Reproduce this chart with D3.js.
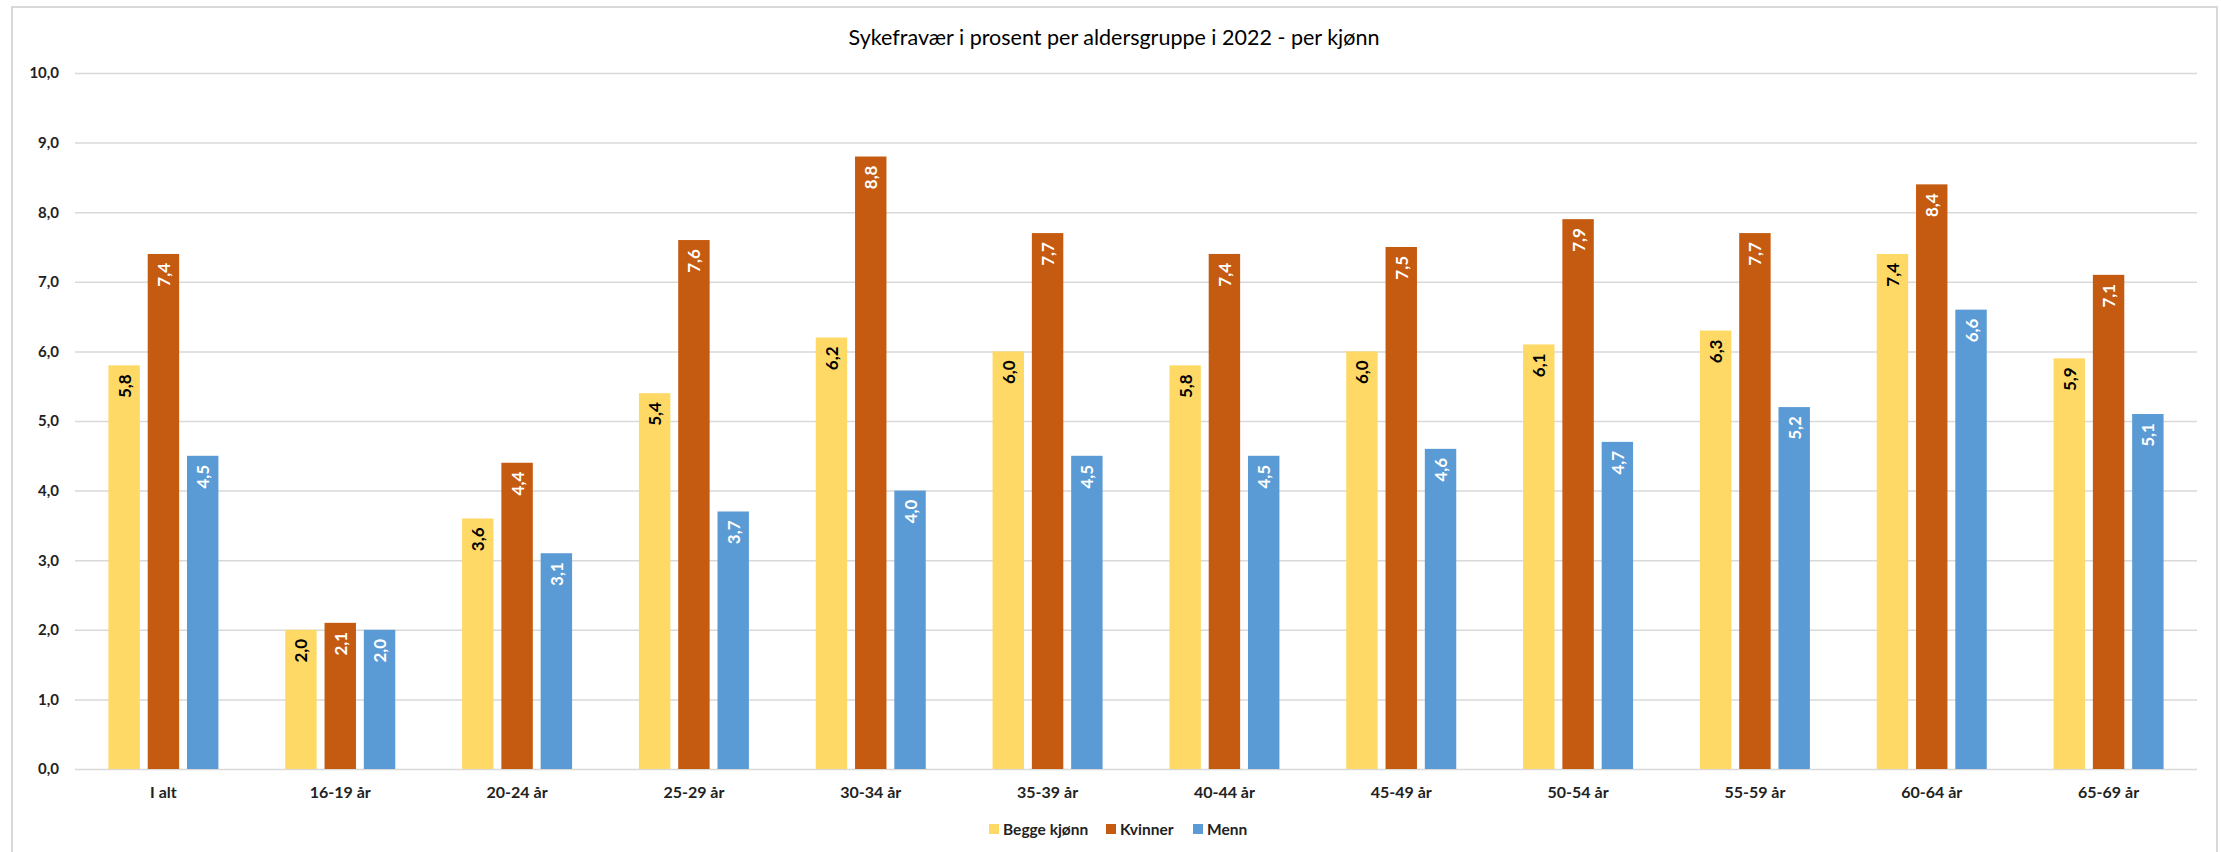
<!DOCTYPE html>
<html>
<head>
<meta charset="utf-8">
<script src="https://cdn.jsdelivr.net/npm/d3@7"></script>
<style>
	body { margin: 0; background: #fff; }
	svg { display: block; font-family: Lato, "Open Sans", sans-serif; }
</style>
</head>
<body>
<div class="chart"></div>
<script>
var categories = ['I alt', '16-19 år', '20-24 år', '25-29 år', '30-34 år', '35-39 år', '40-44 år', '45-49 år', '50-54 år', '55-59 år', '60-64 år', '65-69 år'];
var seriesNames = ['Begge kjønn', 'Kvinner', 'Menn'];
var beggeKjonn = [5.8, 2.0, 3.6, 5.4, 6.2, 6.0, 5.8, 6.0, 6.1, 6.3, 7.4, 5.9];
var kvinner = [7.4, 2.1, 4.4, 7.6, 8.8, 7.7, 7.4, 7.5, 7.9, 7.7, 8.4, 7.1];
var menn = [4.5, 2.0, 3.1, 3.7, 4.0, 4.5, 4.5, 4.6, 4.7, 5.2, 6.6, 5.1];
var yTicks = [0, 1, 2, 3, 4, 5, 6, 7, 8, 9, 10];
var title = 'Sykefravær i prosent per aldersgruppe i 2022 - per kjønn';

var sickChart = (function() {

	var width = 2221, height = 852;
	var colors = ['#FFD966', '#C55A11', '#5B9BD5'];
	var labelColors = ['#000', '#fff', '#fff'];
	var allSeries = [beggeKjonn, kvinner, menn];
	var fmt = function(v) { return d3.format('.1f')(v).replace('.', ','); };

	var draw = function() {

		var svg = d3.select('.chart')
			.append('svg')
			.attr('width', width)
			.attr('height', height);

		// chart frame
		svg.append('rect')
			.attr('x', 12).attr('y', 7)
			.attr('width', 2205).attr('height', 870)
			.attr('fill', '#fff')
			.attr('stroke', '#d9d9d9')
			.attr('stroke-width', 2);

		svg.append('text')
			.attr('x', 1114).attr('y', 45)
			.attr('text-anchor', 'middle')
			.attr('font-size', 21.5)
			.attr('fill', '#000')
			.text(title);

		var x = d3.scaleBand()
			.domain(categories)
			.range([75, 2197]);

		var x1 = d3.scaleBand()
			.domain(seriesNames)
			.range([0, 110])
			.paddingInner(0.2);

		var y = d3.scaleLinear()
			.domain([0, 10])
			.range([769, 73]);

		// gridlines + y labels
		var yAxis = d3.axisLeft(y)
			.tickValues(yTicks)
			.tickSize(-(2197 - 75))
			.tickPadding(16)
			.tickFormat(fmt);

		var gy = svg.append('g')
			.attr('transform', 'translate(75,0)')
			.call(yAxis);
		gy.select('.domain').remove();
		gy.selectAll('line').attr('stroke', '#d9d9d9').attr('stroke-width', 1.5);
		gy.selectAll('text')
			.attr('font-size', 15)
			.attr('font-weight', 'bold')
			.attr('font-family', 'Lato, sans-serif')
			.attr('fill', '#222');

		var xAxis = d3.axisBottom(x).tickSize(0).tickPadding(18);
		var gx = svg.append('g')
			.attr('transform', 'translate(0,769)')
			.call(xAxis);
		gx.select('.domain').remove();
		gx.selectAll('text')
			.attr('font-size', 16)
			.attr('font-weight', 'bold')
			.attr('font-family', 'Lato, sans-serif')
			.attr('fill', '#222');

		var groups = svg.selectAll('.group')
			.data(categories)
			.enter()
				.append('g')
				.attr('class', 'group')
				.attr('transform', function(d) { return 'translate(' + (x(d) + x.bandwidth() / 2 - 55) + ',0)'; });

		seriesNames.forEach(function(name, s) {
			groups.append('rect')
				.attr('x', x1(name))
				.attr('width', x1.bandwidth())
				.attr('y', function(d, i) { return y(allSeries[s][i]); })
				.attr('height', function(d, i) { return y(0) - y(allSeries[s][i]); })
				.attr('fill', colors[s]);

			groups.append('text')
				.attr('transform', function(d, i) {
					return 'translate(' + (x1(name) + x1.bandwidth() / 2) + ',' + (y(allSeries[s][i]) + 9) + ') rotate(-90)';
				})
				.attr('text-anchor', 'end')
				.attr('dominant-baseline', 'central')
				.attr('font-size', 17)
				.attr('font-weight', 'bold')
				.attr('fill', labelColors[s])
				.text(function(d, i) { return fmt(allSeries[s][i]); });
		});

		// legend
		var legendX = [989, 1106, 1193];
		var legend = svg.selectAll('.legend')
			.data(seriesNames)
			.enter()
				.append('g')
				.attr('class', 'legend')
				.attr('transform', function(d, i) { return 'translate(' + legendX[i] + ',829)'; });

		legend.append('rect')
			.attr('x', 0).attr('y', -5)
			.attr('width', 10).attr('height', 10)
			.attr('fill', function(d, i) { return colors[i]; });

		legend.append('text')
			.attr('x', 14)
			.attr('dominant-baseline', 'central')
			.attr('font-size', 15.5)
			.attr('font-weight', 'bold')
			.attr('fill', '#222')
			.text(function(d) { return d; });
	};

	return {
		'draw': draw
	};
})();

sickChart.draw();
</script>
</body>
</html>
